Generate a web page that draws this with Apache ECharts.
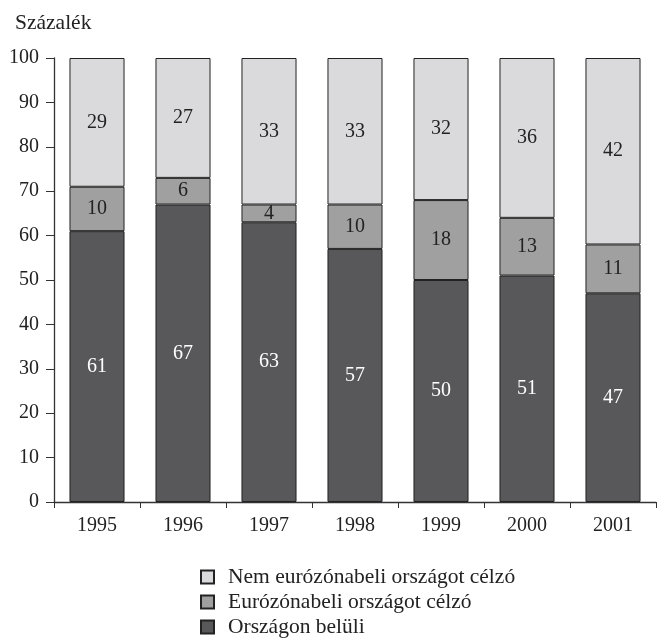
<!DOCTYPE html>
<html><head><meta charset="utf-8">
<script src="https://cdn.jsdelivr.net/npm/echarts@6/dist/echarts.min.js"></script>
<style>html,body{margin:0;padding:0;background:#fff}#c{width:660px;height:644px}</style>
</head><body><div id="c"></div>
<script>
var years = ['1995','1996','1997','1998','1999','2000','2001'];
var domestic = [61, 67, 63, 57, 50, 51, 47];
var euroZone = [10, 6, 4, 10, 18, 13, 11];
var nonEuro = [29, 27, 33, 33, 32, 36, 42];
var names = ['Országon belüli', 'Eurózónabeli országot célzó', 'Nem eurózónabeli országot célzó'];
var yTicks = [0,10,20,30,40,50,60,70,80,90,100];

var font = 'Liberation Serif';
var fs = 20;
var chart = echarts.init(document.getElementById('c'));
function ser(name, data, color, labelColor){
  return {
    name: name, type: 'bar', stack: 'a', data: data, barWidth: '64%',
    itemStyle: {color: color, borderColor: '#222', borderWidth: 1},
    label: {show: true, position: 'inside', color: labelColor, fontFamily: font, fontSize: fs},
    emphasis: {disabled: true}
  };
}
chart.setOption({
  animation: false,
  textStyle: {fontFamily: font},
  title: {text: 'Százalék', left: 10, top: 7, textStyle: {fontFamily: font, fontSize: 21.5, fontWeight: 'normal', color: '#222'}},
  grid: {left: 54, right: 4, top: 58, bottom: 142, containLabel: false},
  legend: {
    orient: 'vertical', left: 195, top: 561, height: 100, itemGap: 3, itemWidth: 13, itemHeight: 13,
    icon: 'rect',
    data: [names[2], names[1], names[0]],
    textStyle: {fontFamily: font, fontSize: 21.5, color: '#222', padding: [0, 0, 0, 9]},
    selectedMode: false
  },
  xAxis: {
    type: 'category', data: years,
    axisLine: {lineStyle: {color: '#333', width: 1.3}},
    axisTick: {show: true, length: 6, lineStyle: {color: '#333'}},
    axisLabel: {fontFamily: font, fontSize: fs, color: '#222', margin: 14}
  },
  yAxis: {
    type: 'value', min: 0, max: 100, interval: 10,
    axisLine: {show: true, lineStyle: {color: '#333', width: 1.3}},
    axisTick: {show: true, length: 8, lineStyle: {color: '#333'}},
    splitLine: {show: false},
    axisLabel: {fontFamily: font, fontSize: fs, color: '#222', margin: 15,
      formatter: function(v){ return yTicks.indexOf(v) >= 0 ? String(v) : ''; }}
  },
  series: [
    ser(names[0], domestic, '#58585a', '#ffffff'),
    ser(names[1], euroZone, '#a0a0a0', '#222'),
    ser(names[2], nonEuro, '#dadadc', '#222')
  ]
});
</script></body></html>
